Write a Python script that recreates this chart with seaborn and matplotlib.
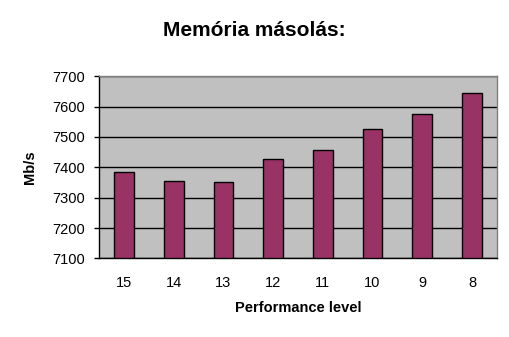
import matplotlib
matplotlib.use("Agg")
import matplotlib.pyplot as plt
import seaborn as sns
import pandas as pd
import numpy as np

levels = ["15", "14", "13", "12", "11", "10", "9", "8"]
speeds = [7384, 7354, 7351, 7426, 7456, 7526, 7574, 7646]
yticks = [7100, 7200, 7300, 7400, 7500, 7600, 7700]

sns.set_style("white")
plt.rcParams['font.family'] = ['Liberation Sans', 'DejaVu Sans']
plt.rcParams['text.color'] = 'black'
plt.rcParams['axes.labelcolor'] = 'black'
plt.rcParams['xtick.color'] = 'black'
plt.rcParams['ytick.color'] = 'black'

df = pd.DataFrame({"level": levels, "speed": speeds})

fig = plt.figure(figsize=(5.09, 3.37), dpi=100)
ax = fig.add_axes([0.195, 0.233, 0.781, 0.541])
ax.set_facecolor("#C0C0C0")
ax.set_axisbelow(True)
ax.yaxis.grid(True, color="black", linewidth=1)

sns.barplot(data=df, x="level", y="speed", order=levels, color="#993366",
            width=0.4, edgecolor="black", linewidth=1, saturation=1, ax=ax)

ax.set_ylim(7100, 7700)
ax.set_yticks(yticks)
ax.set_yticklabels([str(v) for v in yticks], fontsize=10.5)
ax.set_xlim(-0.5, len(levels) - 0.5)
ax.tick_params(axis="x", which="major", length=0, labelsize=10.5, pad=12.5)
ax.set_xticks(np.arange(-0.5, len(levels)), minor=True)
ax.tick_params(axis="x", which="minor", length=4, width=1, color="black", direction="out")
ax.tick_params(axis="y", which="major", length=3.5, width=1, color="black", direction="out", left=True, pad=7)

for s in ["left", "bottom"]:
    ax.spines[s].set_color("black")
    ax.spines[s].set_linewidth(1)
for s in ["top", "right"]:
    ax.spines[s].set_color("#808080")
    ax.spines[s].set_linewidth(1)

ax.set_xlabel("Performance level", fontsize=10.5, fontweight="bold", labelpad=8)
ax.set_ylabel("Mb/s", fontsize=10.5, fontweight="bold", labelpad=11)
fig.text(0.5, 0.91, "Memória másolás:", ha="center", va="center",
         fontsize=15, fontweight="bold")

fig.savefig("out.png", dpi=100)
